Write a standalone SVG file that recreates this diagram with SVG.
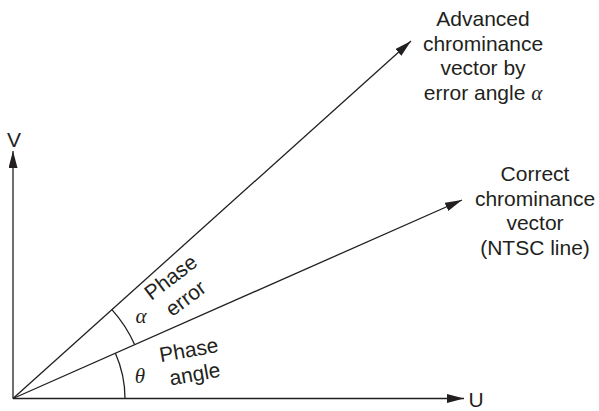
<svg xmlns="http://www.w3.org/2000/svg" width="599" height="411" viewBox="0 0 599 411">
<style>
.t{font-family:"Liberation Sans",Arial,sans-serif;font-size:21px;fill:#231f20;text-anchor:middle}
.g{font-family:"Liberation Serif","Times New Roman",serif;font-style:italic;fill:#231f20;text-anchor:middle}
.ln{stroke:#231f20;stroke-width:1.3;fill:none}
</style>
<defs>
<marker id="ah" viewBox="0 0 17 9" refX="17" refY="4.5" markerWidth="17" markerHeight="9" orient="auto" markerUnits="userSpaceOnUse">
<path d="M0,0 L17,4.5 L0,9 Z" fill="#231f20"/>
</marker>
</defs>
<rect width="599" height="411" fill="#fff"/>
<g id="connectors">
<line class="ln" x1="13" y1="398.5" x2="13" y2="151" marker-end="url(#ah)"/>
<line class="ln" x1="13" y1="398.5" x2="464" y2="398.5" marker-end="url(#ah)"/>
<line class="ln" x1="13" y1="398.5" x2="411" y2="41" marker-end="url(#ah)"/>
<line class="ln" x1="13" y1="398.5" x2="462" y2="200" marker-end="url(#ah)"/>
<path class="ln" d="M125,398.5 A112,112 0 0 0 115.4,353.2"/>
<path class="ln" d="M134.7,344.7 A133,133 0 0 0 111.9,309.6"/>
</g>
<g id="axis-v"><text class="t" x="14" y="147">V</text></g>
<g id="axis-u"><text class="t" x="476" y="407">U</text></g>
<g id="advanced-vector">
<text class="t" x="483" y="26">Advanced</text>
<text class="t" x="483" y="50.5">chrominance</text>
<text class="t" x="483" y="75">vector by</text>
<text class="t" x="483" y="99.5">error angle <tspan class="g" font-size="21">α</tspan></text>
</g>
<g id="correct-vector">
<text class="t" x="535" y="181">Correct</text>
<text class="t" x="535" y="205.5">chrominance</text>
<text class="t" x="535" y="230">vector</text>
<text class="t" x="535" y="254.5">(NTSC line)</text>
</g>
<g id="phase-error">
<text class="t" transform="rotate(-37 175 283)" x="175" y="283">Phase</text>
<text class="t" transform="rotate(-37 190 304)" x="190" y="304">error</text>
<text class="g" font-size="21" x="141" y="323">α</text>
</g>
<g id="phase-angle">
<text class="t" transform="rotate(-10 190 357)" x="190" y="357">Phase</text>
<text class="t" transform="rotate(-10 196 381)" x="196" y="381">angle</text>
<text class="g" font-size="21" x="140" y="383">θ</text>
</g>
</svg>
